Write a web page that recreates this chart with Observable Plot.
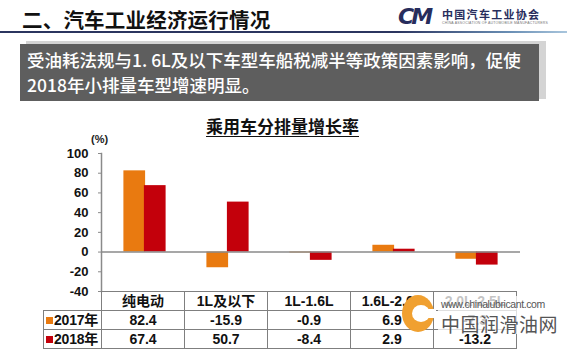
<!DOCTYPE html>
<html>
<head>
<meta charset="utf-8">
<script src="https://cdn.jsdelivr.net/npm/d3@7"></script>
<script src="https://cdn.jsdelivr.net/npm/@observablehq/plot@0.6"></script>
<style>
  html, body { margin: 0; padding: 0; background: #fff; }
  body { width: 567px; height: 359px; position: relative; overflow: hidden;
         font-family: "Liberation Sans", "Noto Sans CJK SC", sans-serif; }
  .abs { position: absolute; white-space: nowrap; }
  #hdr { left: 22px; top: 5px; font-size: 20.5px; line-height: 28px; font-weight: bold; color: #111;
         font-family: "Noto Sans CJK SC", sans-serif; letter-spacing: 0.2px; }
  #hline { left: 0; top: 31px; width: 567px; height: 2px;
           background: linear-gradient(to right, #2b355f 0%, #2b355f 70%, #6a8fb5 90%, #a9c6dd 100%); }
  #logoCM { left: 398px; top: 4px; font-size: 22px; font-weight: bold; font-style: italic;
            color: #272d5c; letter-spacing: -3px; font-family: "DejaVu Sans", sans-serif; }
  #logoTxt { left: 442px; top: 6px; font-size: 11px; font-weight: bold; color: #272d5c;
             font-family: "Noto Sans CJK SC", sans-serif; letter-spacing: 1.3px; }
  #logoEn { left: 442px; top: 21px; font-size: 3.5px; color: #777; letter-spacing: 0.2px; }
  #shadow { left: 26px; top: 41px; width: 520px; height: 58px; background: #d4d4d4; }
  #box { left: 20px; top: 44px; width: 519px; height: 57px; background: #5e5e5e; }
  #boxTxt { left: 27px; top: 47px; font-size: 17.5px; line-height: 25px; color: #fff; font-weight: 500;
            font-family: "Noto Sans CJK SC", sans-serif; }
  #title { left: 0; width: 565px; top: 113px; text-align: center; font-size: 17px; font-weight: bold;
           text-decoration: underline; text-underline-offset: 3px; color: #111;
           font-family: "Noto Sans CJK SC", sans-serif; }
  #unit { left: 91px; top: 133px; font-size: 11px; font-weight: bold; color: #222; }
  #chart { left: 0; top: 140px; }
  table { position: absolute; left: 43px; top: 291px; border-collapse: collapse; table-layout: fixed; }
  td { border: 1px solid #7f7f7f; text-align: center; font-size: 14px; font-weight: bold; color: #111;
       padding: 0; height: 18px; line-height: 18px; white-space: nowrap; overflow: visible;
       font-family: "Liberation Sans", "Noto Sans CJK SC", sans-serif; }
  td.lg { text-align: left; padding-left: 2px; font-size: 14px; letter-spacing: -0.2px; }
  td.empty { border-top: none; border-left: none; }
  .sq { display: inline-block; width: 7px; height: 7px; margin-right: 1px; vertical-align: 1px; }
  #wmLogo { left: 402px; top: 295px; width: 32px; height: 37px; border-radius: 50%; background: #f0a030; }
  #wmLogoIn { left: 412px; top: 305px; width: 18px; height: 17px; border-radius: 50%; background: #fff; }
  #wmCut { left: 424px; top: 309px; width: 12px; height: 9px; background: #fff; }
  #wmBg { left: 438px; top: 296px; width: 104px; height: 38px; background: rgba(255,255,255,0.75); }
  #wmUrl { left: 441px; top: 298px; font-size: 10.5px; color: #555; letter-spacing: -0.4px; }
  #wmCn { left: 441px; top: 310px; font-size: 19px; color: #555; letter-spacing: 0.5px;
          font-family: "Noto Sans CJK SC", sans-serif; }
</style>
</head>
<body>
<div id="hdr" class="abs">二、汽车工业经济运行情况</div>
<div id="hline" class="abs"></div>
<div id="logoCM" class="abs">CM</div>
<div id="logoTxt" class="abs">中国汽车工业协会</div>
<div id="logoEn" class="abs">CHINA ASSOCIATION OF AUTOMOBILE MANUFACTURERS</div>
<div id="shadow" class="abs"></div>
<div id="box" class="abs"></div>
<div id="boxTxt" class="abs">受油耗法规与1. 6L及以下车型车船税减半等政策因素影响，促使<br>2018年小排量车型增速明显。</div>
<div id="title" class="abs">乘用车分排量增长率</div>
<div id="unit" class="abs">(%)</div>
<div id="chart" class="abs"></div>
<table id="tbl"></table>
<div id="wmLogo" class="abs"></div>
<div id="wmLogoIn" class="abs"></div>
<div id="wmCut" class="abs"></div>
<div id="wmBg" class="abs"></div>
<div id="wmUrl" class="abs">www.chinalubricant.com</div>
<div id="wmCn" class="abs">中国润滑油网</div>
<script>
const categories = ["纯电动", "1L及以下", "1L-1.6L", "1.6L-2.0L", "2.0L-2.5L"];
const seriesNames = ["2017年", "2018年"];
const values2017 = [82.4, -15.9, -0.9, 6.9, -7.3];
const values2018 = [67.4, 50.7, -8.4, 2.9, -13.2];
const yTicks = [-40, -20, 0, 20, 40, 60, 80, 100];
const seriesColors = ["#E97A10", "#C3000B"];

const seriesValues = [values2017, values2018];
const rows = seriesNames.flatMap((s, si) =>
  categories.map((c, i) => ({cat: c, series: s, value: seriesValues[si][i]})));

const W = 567, H = 160, mL = 101, mR = 47, mT = 13, mB = 9;
const bw = (W - mL - mR) / categories.length;
const barW = 22.5;

const chart = Plot.plot({
  width: W, height: H,
  marginLeft: mL, marginRight: mR, marginTop: mT, marginBottom: mB,
  style: {fontFamily: "Liberation Sans, Arial, sans-serif", fontSize: "13px", fontWeight: "bold", color: "#111", background: "transparent"},
  x: {domain: categories, padding: 0, axis: null},
  y: {domain: [-40, 100], axis: null},
  color: {domain: seriesNames, range: seriesColors},
  marks: [
    Plot.barY(rows.filter(d => d.series === seriesNames[0]),
      {x: "cat", y: "value", fill: "series", insetLeft: bw / 2 - barW + 1, insetRight: bw / 2 - 1}),
    Plot.barY(rows.filter(d => d.series === seriesNames[1]),
      {x: "cat", y: "value", fill: "series", insetLeft: bw / 2 - 1, insetRight: bw / 2 - barW + 1}),
    Plot.ruleY([0], {stroke: "#8a8a8a", strokeWidth: 1.5}),
    Plot.axisY({ticks: yTicks, label: null, tickSize: 3, tickPadding: 10, stroke: "#8a8a8a", fill: "#111", tickFormat: d => String(d)}),
    Plot.frame({anchor: "left", stroke: "#8a8a8a", strokeWidth: 1.5})
  ]
});
document.getElementById("chart").appendChild(chart);

// data table below the chart, columns aligned with the chart's x band scale
const xs = chart.scale("x");
const tbl = document.getElementById("tbl");
const colgroup = document.createElement("colgroup");
const c0 = document.createElement("col"); c0.style.width = "58px"; colgroup.appendChild(c0);
categories.forEach(() => { const c = document.createElement("col"); c.style.width = xs.step + "px"; colgroup.appendChild(c); });
tbl.appendChild(colgroup);
tbl.style.width = (58 + xs.step * categories.length) + "px";
const hr = document.createElement("tr");
const e = document.createElement("td"); e.className = "empty"; hr.appendChild(e);
categories.forEach(c => { const td = document.createElement("td"); td.textContent = c; hr.appendChild(td); });
tbl.appendChild(hr);
seriesNames.forEach((s, si) => {
  const tr = document.createElement("tr");
  const lg = document.createElement("td"); lg.className = "lg";
  const sq = document.createElement("span"); sq.className = "sq"; sq.style.background = seriesColors[si];
  lg.appendChild(sq); lg.appendChild(document.createTextNode(s));
  tr.appendChild(lg);
  seriesValues[si].forEach(v => { const td = document.createElement("td"); td.textContent = v.toFixed(1); tr.appendChild(td); });
  tbl.appendChild(tr);
});
</script>
</body>
</html>
